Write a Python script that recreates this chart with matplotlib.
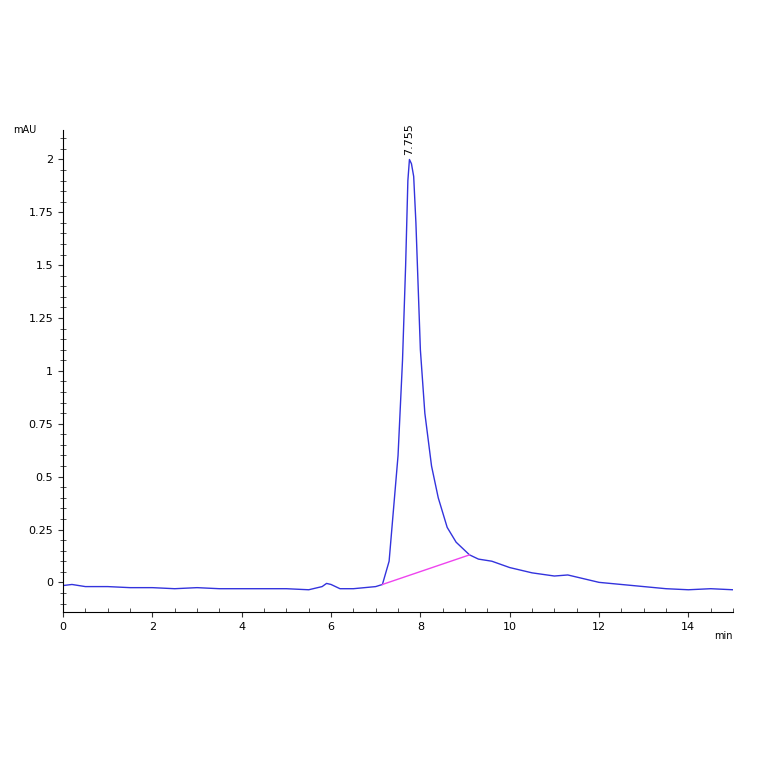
import numpy as np
from matplotlib import pyplot as plt
from matplotlib.ticker import MultipleLocator

# chromatogram trace
time_min = [0, 0.2, 0.5, 1, 1.5, 2, 2.5, 3, 3.5, 4, 4.5, 5, 5.5, 5.8, 5.9, 6.0, 6.2, 6.5, 7.0,
            7.15, 7.3, 7.4, 7.5, 7.6, 7.67, 7.72, 7.755, 7.8, 7.85, 7.9, 8.0, 8.1, 8.25,
            8.4, 8.6, 8.8, 9.0, 9.1, 9.3, 9.6, 10, 10.5, 11, 11.3, 11.6, 12, 12.5, 13,
            13.5, 14, 14.5, 15]
signal_mau = [-0.015, -0.01, -0.02, -0.02, -0.025, -0.025, -0.03, -0.025, -0.03, -0.03, -0.03,
              -0.03, -0.035, -0.02, -0.005, -0.01, -0.03, -0.03, -0.02,
              -0.01, 0.1, 0.35, 0.6, 1.05, 1.5, 1.9, 2.0, 1.98, 1.92, 1.7, 1.1, 0.8, 0.55,
              0.4, 0.26, 0.19, 0.15, 0.13, 0.11, 0.1, 0.07, 0.045, 0.03, 0.035, 0.02, 0.0,
              -0.01, -0.02, -0.03, -0.035, -0.03, -0.035]
baseline_t = [7.15, 9.1]
baseline_y = [-0.01, 0.13]
peak_t = 7.755
peak_y = 2.0

fig = plt.figure(figsize=(7.64, 7.64), dpi=100)
ax = fig.add_axes([0.0825, 0.199, 0.877, 0.631])

ax.plot(time_min, signal_mau, color="#3333dd", lw=1)
ax.plot(baseline_t, baseline_y, color="#ee44ee", lw=1)
ax.text(peak_t, peak_y + 0.02, "7.755", rotation=90, ha="center", va="bottom", fontsize=8)

ax.set_xlim(0, 15)
ax.set_ylim(-0.14, 2.14)
ax.xaxis.set_major_locator(MultipleLocator(2))
ax.xaxis.set_minor_locator(MultipleLocator(0.5))
ax.yaxis.set_major_locator(MultipleLocator(0.25))
ax.yaxis.set_minor_locator(MultipleLocator(0.05))
ax.set_yticks([0, 0.25, 0.5, 0.75, 1, 1.25, 1.5, 1.75, 2])
ax.set_yticklabels(["0", "0.25", "0.5", "0.75", "1", "1.25", "1.5", "1.75", "2"])
ax.tick_params(which="both", labelsize=8, color="#333333")
ax.tick_params(axis="x", which="minor", direction="in", length=3)
ax.tick_params(axis="y", which="minor", direction="inout", length=4)
for s in ["top", "right"]:
    ax.spines[s].set_visible(False)
ax.text(-0.04, 1.0, "mAU", transform=ax.transAxes, ha="right", va="center", fontsize=7)
ax.text(1.0, -0.04, "min", transform=ax.transAxes, ha="right", va="top", fontsize=7)

plt.savefig("out.png")
